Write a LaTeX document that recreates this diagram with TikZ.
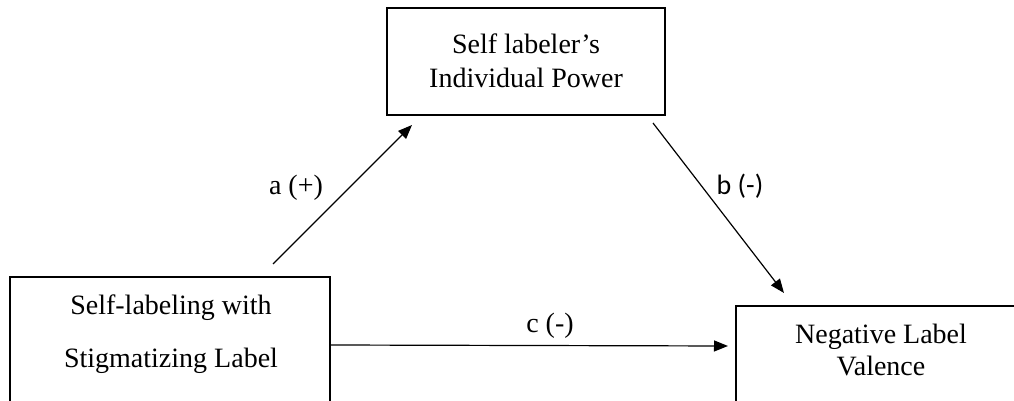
\documentclass[tikz,border=0pt]{standalone}
\usepackage{fontspec}
\setmainfont{Liberation Serif}
\newfontfamily\calfont{Carlito}
\usetikzlibrary{arrows.meta,calc}
\begin{document}
\begin{tikzpicture}[x=0.5pt,y=-0.5pt,
  box/.style={draw=black, line width=1pt, rectangle, inner sep=0pt, outer sep=0pt, anchor=north west},
  txt/.style={align=center, inner sep=0pt},
  arr/.style={-{Triangle[length=7pt,width=5.5pt]}, line width=0.6pt, black},
  lab/.style={inner sep=0pt, anchor=base, font=\fontsize{14}{16}\selectfont}]
\useasboundingbox (0,0) rectangle (1014,401);
\clip (0,0) rectangle (1014,401);
% boxes
\node[box, minimum width=139pt, minimum height=53.5pt] (med) at (387,8) {};
\node[box, minimum width=160pt, minimum height=75pt] (src) at (10,277) {};
\node[box, minimum width=150pt, minimum height=75pt] (out) at (736,306) {};
% box texts
\node[txt, font=\fontsize{14}{17}\selectfont] (medt) at (526,60.5) {Self labeler’s\\Individual Power};
\node[txt, font=\fontsize{14}{26.5}\selectfont] (srct) at (171,334) {Self-labeling with\\Stigmatizing Label};
\node[txt, font=\fontsize{14}{16}\selectfont] (outt) at (881,349.5) {Negative Label\\Valence};
% connectors
\draw[arr] ($(src.north west)+(263,-13)$) -- ($(med.south west)+(25,10)$);
\draw[arr] ($(med.south east)+(-12,8)$) -- ($(out.north west)+(48,-13)$);
\draw[arr] ($(src.north east)+(0,68)$) -- ($(out.north west)+(-8,40)$);
% labels
\node[lab] (la) at (296,195) {a (+)};
\node[lab, font=\calfont\fontsize{14}{16}\selectfont] (lb) at (740,195) {b (-)};
\node[lab] (lc) at (550,333) {c (-)};
\end{tikzpicture}
\end{document}
